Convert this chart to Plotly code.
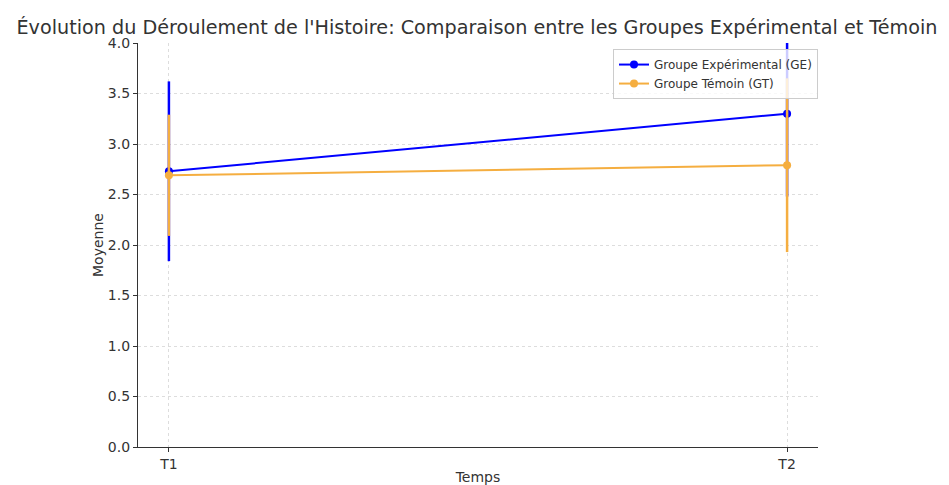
import plotly.graph_objects as go

temps = ["T1", "T2"]
ge_mean = [2.73, 3.30]
ge_err = [0.89, 0.82]
gt_mean = [2.69, 2.79]
gt_err = [0.60, 0.86]

blue = "#0000ff"
orange = "#f5ae40"

fig = go.Figure()
fig.add_trace(go.Scatter(
    x=[0, 1], y=ge_mean, mode="lines+markers", name="Groupe Expérimental (GE)",
    line=dict(color=blue, width=2), marker=dict(color=blue, size=8),
    error_y=dict(type="data", array=ge_err, visible=True, color=blue, thickness=2.5, width=0),
    cliponaxis=True,
))
fig.add_trace(go.Scatter(
    x=[0, 1], y=gt_mean, mode="lines+markers", name="Groupe Témoin (GT)",
    line=dict(color=orange, width=2), marker=dict(color=orange, size=8),
    error_y=dict(type="data", array=gt_err, visible=True, color=orange, thickness=2.5, width=0),
    cliponaxis=True,
))

font = "DejaVu Sans, sans-serif"
fig.update_layout(
    width=941, height=477,
    margin=dict(l=130, r=131, t=35, b=38, autoexpand=False),
    paper_bgcolor="white", plot_bgcolor="white",
    font=dict(family=font, size=13, color="#333"),
    title=dict(text="Évolution du Déroulement de l'Histoire: Comparaison entre les Groupes Expérimental et Témoin",
               x=469/941, xanchor="center", xref="container", y=1-19/477, yref="container", yanchor="middle",
               font=dict(family=font, size=19.2, color="#333")),
    showlegend=True,
    legend=dict(x=1.0, y=0.985, xanchor="right", yanchor="top",
                bgcolor="rgba(255,255,255,0.8)", bordercolor="#ccc", borderwidth=1,
                font=dict(size=12, color="#333"), tracegroupgap=0, itemwidth=30),
)
fig.update_xaxes(
    range=[-0.05, 1.05], tickmode="array", tickvals=[0, 1], ticktext=temps,
    showline=True, linecolor="#333", linewidth=1.2, ticks="outside", ticklen=4, tickcolor="#333",
    showgrid=True, gridcolor="#ddd", griddash="dot", gridwidth=1, zeroline=False, automargin=False,
    tickfont=dict(size=14, color="#333"),
    title=dict(text="Temps", font=dict(size=14, color="#333"), standoff=3),
)
fig.update_yaxes(
    range=[0, 4.0], tickvals=[0, 0.5, 1.0, 1.5, 2.0, 2.5, 3.0, 3.5, 4.0], tickformat=".1f",
    showline=True, linecolor="#333", linewidth=1.2, ticks="outside", ticklen=4, tickcolor="#333",
    showgrid=True, gridcolor="#ddd", griddash="dot", gridwidth=1, zeroline=False, automargin=False,
    tickfont=dict(size=14, color="#333"),
    title=dict(text="Moyenne", font=dict(size=14, color="#333"), standoff=0),
)
fig.write_html("out.html")
